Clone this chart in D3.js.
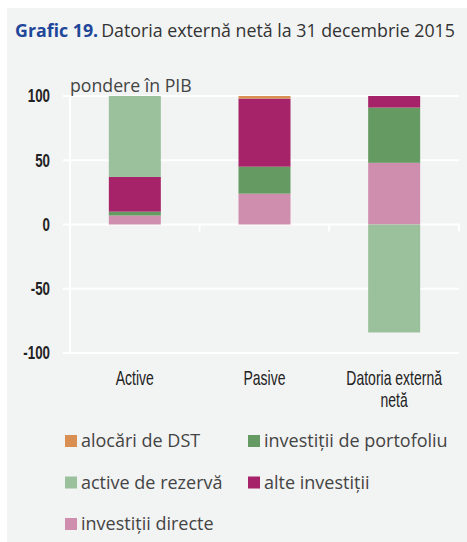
<!DOCTYPE html>
<html lang="ro">
<head>
<meta charset="utf-8">
<title>Grafic 19</title>
<script src="https://d3js.org/d3.v7.min.js"></script>
<style>
  body { margin: 0; background: #fff; }
  .axis text { font-family: "Liberation Sans", Arial, sans-serif; }
</style>
</head>
<body>
<div id="chart"></div>
<script>
// categories and series (pondere in PIB, %)
const categories = ["Active", "Pasive", "Datoria externă netă"];
const seriesNames = ["investiții directe", "investiții de portofoliu", "alte investiții", "alocări de DST", "active de rezervă"];
const directe    = [7, 24, 48];
const portofoliu = [3, 21, 43];
const alte       = [27, 53, 9];
const dst        = [0, 2, 0];
const rezerva    = [63, 0, -84];
const yTicks = [-100, -50, 0, 50, 100];

const colors = {
  "alocări de DST": "#d98f52",
  "investiții de portofoliu": "#659a62",
  "active de rezervă": "#9bc09c",
  "alte investiții": "#a72369",
  "investiții directe": "#cf8eae"
};
const legendOrder = ["alocări de DST", "investiții de portofoliu", "active de rezervă", "alte investiții", "investiții directe"];

const width = 467, height = 542;
const narrow = 0.7; // condensed look for axis labels
const svg = d3.select("#chart").append("svg")
  .attr("width", width).attr("height", height);

// panel background
svg.append("rect").attr("x", 7).attr("y", 8)
  .attr("width", width - 7).attr("height", height - 8)
  .attr("fill", "#f2f3f3");

// title
const title = svg.append("text").attr("x", 15).attr("y", 37)
  .attr("font-family", "'Open Sans', sans-serif").attr("font-size", 17.8);
title.append("tspan").attr("fill", "#1f4799").attr("font-weight", "bold").text("Grafic 19.");
title.append("tspan").attr("fill", "#333").attr("dx", 3).text("Datoria externă netă la 31 decembrie 2015");

// scales
const x = d3.scaleBand().domain(categories).range([70, 459]).paddingInner(0).paddingOuter(0);
const y = d3.scaleLinear().domain([-100, 100]).range([353, 96]);
const barW = 52;

// gridlines
svg.append("g").selectAll("line").data(yTicks).enter().append("line")
  .attr("x1", 63).attr("x2", 459)
  .attr("y1", d => y(d)).attr("y2", d => y(d))
  .attr("stroke", "#fff").attr("stroke-width", 2);

// y axis line
svg.append("line").attr("x1", 70).attr("x2", 70)
  .attr("y1", y(100)).attr("y2", y(-100))
  .attr("stroke", "#fff").attr("stroke-width", 2);

// x ticks at zero
svg.append("g").selectAll("line").data([70, 199.5, 329, 459]).enter().append("line")
  .attr("x1", d => d).attr("x2", d => d)
  .attr("y1", y(0)).attr("y2", y(0) + 7)
  .attr("stroke", "#fff").attr("stroke-width", 2);

// stacked data
const rows = categories.map((c, i) => ({
  cat: c,
  "investiții directe": directe[i],
  "investiții de portofoliu": portofoliu[i],
  "alte investiții": alte[i],
  "alocări de DST": dst[i],
  "active de rezervă": rezerva[i]
}));
const stack = d3.stack().keys(seriesNames).offset(d3.stackOffsetDiverging);
const layers = stack(rows);

svg.append("g").selectAll("g").data(layers).enter().append("g")
  .attr("fill", d => colors[d.key])
  .selectAll("rect").data(d => d).enter().append("rect")
  .attr("x", d => x(d.data.cat) + (x.bandwidth() - barW) / 2)
  .attr("width", barW)
  .attr("y", d => y(Math.max(d[0], d[1])))
  .attr("height", d => Math.abs(y(d[0]) - y(d[1])));

// y tick labels
const yAxis = svg.append("g").attr("class", "axis");
yAxis.selectAll("text").data(yTicks).enter().append("text")
  .attr("transform", d => `translate(50,${y(d)}) scale(0.74,1)`)
  .attr("dy", "0.36em")
  .attr("text-anchor", "end").attr("font-size", 18).attr("fill", "#222")
  .attr("font-weight", "bold")
  .text(d => d);

// axis unit label
svg.append("text").attr("x", 70).attr("y", 92)
  .attr("font-family", "'Open Sans', sans-serif").attr("font-size", 17.7).attr("fill", "#444")
  .text("pondere în PIB");

// category labels
const catLabels = [["Active"], ["Pasive"], ["Datoria externă", "netă"]];
const xAxis = svg.append("g").attr("class", "axis");
categories.forEach((c, i) => {
  const t = xAxis.append("text")
    .attr("transform", `translate(${x(c) + x.bandwidth() / 2},385) scale(${narrow},1)`)
    .attr("text-anchor", "middle").attr("font-size", 20).attr("fill", "#222");
  catLabels[i].forEach((line, j) => {
    t.append("tspan").attr("x", 0).attr("dy", j === 0 ? 0 : 22).text(line);
  });
});

// legend
const legend = svg.append("g");
legendOrder.forEach((name, i) => {
  const col = i % 2, row = Math.floor(i / 2);
  const lx = col === 0 ? 65 : 248, ly = 441 + row * 41.5;
  legend.append("rect").attr("x", lx).attr("y", ly - 6).attr("width", 12).attr("height", 12)
    .attr("fill", colors[name]);
  legend.append("text").attr("x", lx + 16).attr("y", ly).attr("dy", "0.36em")
    .attr("font-family", "'Open Sans', sans-serif").attr("font-size", 18).attr("fill", "#444")
    .text(name);
});
</script>
</body>
</html>
